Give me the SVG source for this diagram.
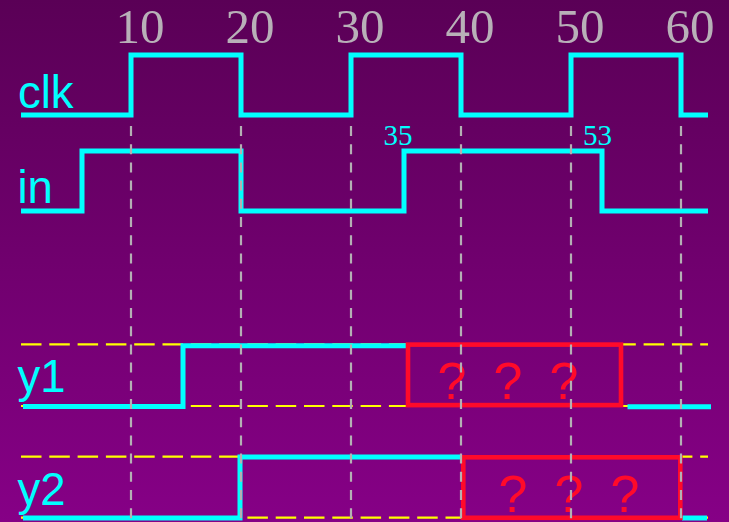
<svg xmlns="http://www.w3.org/2000/svg" width="729" height="522" viewBox="0 0 729 522">
<defs>
<linearGradient id="bg" x1="0" y1="0" x2="0" y2="1">
<stop offset="0" stop-color="#5a0056"/>
<stop offset="1" stop-color="#860086"/>
</linearGradient>
<style>
.sig{fill:none;stroke:#00ffff;stroke-width:5;stroke-linejoin:miter;stroke-linecap:butt}
.ref{fill:none;stroke:#ffff00;stroke-width:2.2;stroke-dasharray:20.5 7.8}
.grid{fill:none;stroke:#b4b0b4;stroke-width:2.2;stroke-dasharray:10 8.2}
.box{fill:none;stroke:#ff0a2a;stroke-width:4.6}
.lbl{font-family:"Liberation Sans",Arial,sans-serif;font-size:45.5px;fill:#00ffff}
.tick{font-family:"Liberation Serif","Times New Roman",serif;font-size:49px;fill:#b8b0b8;text-anchor:middle}
.evt{font-family:"Liberation Serif","Times New Roman",serif;font-size:29px;fill:#00ffff;text-anchor:middle}
.q{font-family:"Liberation Sans",Arial,sans-serif;font-size:52px;fill:#ff0a2a;text-anchor:middle;word-spacing:12.6px}
</style>
</defs>
<rect width="729" height="522" fill="url(#bg)"/>
<g id="ticks">
<text class="tick" x="140" y="42.5">10</text>
<text class="tick" x="250" y="42.5">20</text>
<text class="tick" x="360" y="42.5">30</text>
<text class="tick" x="470" y="42.5">40</text>
<text class="tick" x="580" y="42.5">50</text>
<text class="tick" x="690" y="42.5">60</text>
</g>
<g id="clk">
<text class="lbl" x="18" y="107.5">clk</text>
<path class="sig" d="M21,115 H131 V55 H241 V115 H351 V55 H461 V115 H571 V55 H681 V115 H708"/>
</g>
<g id="in">
<text class="lbl" x="17.5" y="203">in</text>
<path class="sig" d="M21,211 H82 V151 H241 V211 H404 V151 H602 V211 H708"/>
<text class="evt" x="398" y="145">35</text>
<text class="evt" x="597.5" y="145">53</text>
</g>
<g id="y1">
<line class="ref" x1="21" y1="344.3" x2="708" y2="344.3"/>
<line class="ref" x1="21" y1="406" x2="708" y2="406"/>
<text class="lbl" x="17.5" y="392">y1</text>
<path class="sig" d="M23,406.5 H183 V345.7 H406"/>
<path class="sig" d="M627.5,406.7 H711"/>
<rect class="box" x="408" y="344.6" width="213" height="60.5"/>
<text class="q" x="508" y="399">? ? ?</text>
</g>
<g id="y2">
<line class="ref" x1="21" y1="456.7" x2="708" y2="456.7"/>
<line class="ref" x1="21" y1="517.7" x2="708" y2="517.7"/>
<text class="lbl" x="17.5" y="505">y2</text>
<path class="sig" d="M23,518 H240 V457 H461"/>
<path class="sig" d="M682,518 H707"/>
<rect class="box" x="463.3" y="457.3" width="217" height="60.5"/>
<text class="q" x="569" y="511.5">? ? ?</text>
</g>
<g id="connectors">
<line class="grid" x1="131" y1="126" x2="131" y2="522"/>
<line class="grid" x1="241" y1="126" x2="241" y2="522"/>
<line class="grid" x1="351" y1="126" x2="351" y2="522"/>
<line class="grid" x1="461" y1="126" x2="461" y2="522"/>
<line class="grid" x1="571" y1="126" x2="571" y2="522"/>
<line class="grid" x1="681" y1="126" x2="681" y2="522"/>
</g>
</svg>
